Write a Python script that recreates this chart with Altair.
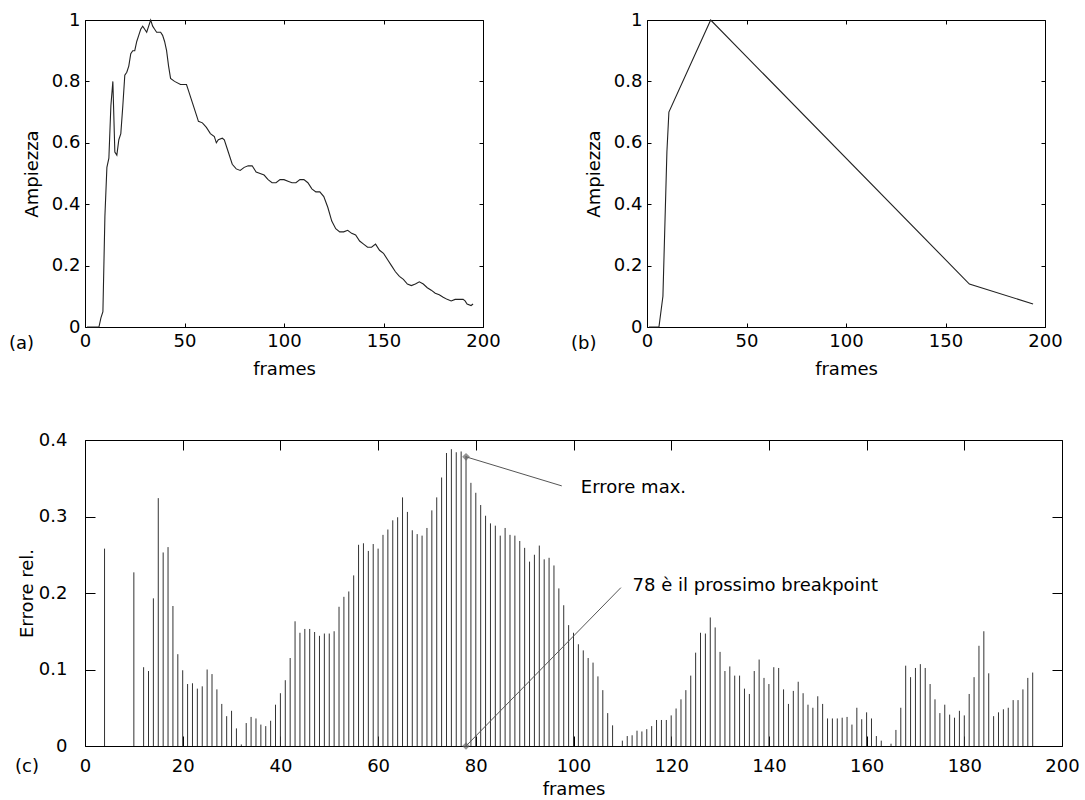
import altair as alt
import pandas as pd

FONT = "DejaVu Sans"
FS = 18

# ---------------- panel (a): measured amplitude ----------------
a_frames = [1, 7, 8, 9, 10, 11, 12, 13, 14, 15, 16, 17, 18, 19, 20, 21, 22, 23, 24, 25,
            26, 27, 28, 29, 30, 31, 32, 33, 34, 35, 36, 38, 39, 40, 41, 42, 43, 45, 48,
            51, 52, 54, 56, 57, 59, 61, 63, 65, 66, 67, 69, 70, 72, 74, 76, 78, 80, 82,
            84, 86, 88, 90, 92, 94, 96, 98, 100, 102, 104, 106, 108, 110, 112, 114, 116,
            118, 120, 122, 124, 126, 128, 130, 132, 134, 136, 138, 140, 142, 144, 146,
            148, 150, 152, 154, 156, 158, 160, 162, 164, 166, 168, 170, 172, 174, 176,
            178, 180, 182, 184, 186, 188, 190, 191, 192, 194, 195]
a_amp = [0.0, 0.0, 0.03, 0.05, 0.36, 0.52, 0.55, 0.72, 0.80, 0.57, 0.56, 0.61, 0.63,
         0.72, 0.82, 0.83, 0.85, 0.89, 0.90, 0.90, 0.93, 0.95, 0.97, 0.98, 0.97, 0.96,
         0.98, 1.0, 0.98, 0.97, 0.96, 0.96, 0.95, 0.93, 0.90, 0.85, 0.81, 0.80, 0.79,
         0.79, 0.77, 0.73, 0.69, 0.67, 0.665, 0.65, 0.63, 0.62, 0.60, 0.61, 0.615, 0.61,
         0.57, 0.53, 0.515, 0.51, 0.52, 0.525, 0.525, 0.505, 0.50, 0.495, 0.48, 0.47,
         0.47, 0.48, 0.48, 0.475, 0.47, 0.47, 0.48, 0.48, 0.47, 0.45, 0.44, 0.44, 0.425,
         0.39, 0.345, 0.32, 0.31, 0.31, 0.315, 0.305, 0.30, 0.28, 0.27, 0.26, 0.26, 0.27,
         0.25, 0.24, 0.22, 0.20, 0.18, 0.165, 0.155, 0.14, 0.135, 0.14, 0.147, 0.14,
         0.128, 0.12, 0.11, 0.105, 0.097, 0.09, 0.085, 0.09, 0.09, 0.09, 0.085, 0.075,
         0.07, 0.075]

# ---------------- panel (b): piecewise-linear approximation ----------------
b_frames = [1, 6, 8, 10, 11, 32, 162, 194]
b_amp = [0.0, 0.0, 0.10, 0.57, 0.70, 1.0, 0.14, 0.075]

# ---------------- panel (c): relative error per frame ----------------
c_frames = list(range(1, 195))
c_err = [
    0, 0, 0, 0.258, 0, 0, 0, 0, 0, 0.227,                                # 1-10
    0, 0.103, 0.098, 0.193, 0.324, 0.253, 0.26, 0.183, 0.12, 0.099,        # 11-20
    0.081, 0.082, 0.075, 0.078, 0.10, 0.094, 0.074, 0.055, 0.039, 0.046,   # 21-30
    0.023, 0.002, 0.03, 0.038, 0.036, 0.028, 0.026, 0.033, 0.054, 0.069,   # 31-40
    0.086, 0.115, 0.163, 0.148, 0.153, 0.153, 0.149, 0.144, 0.147, 0.147,  # 41-50
    0.15, 0.182, 0.195, 0.202, 0.223, 0.263, 0.265, 0.255, 0.264, 0.258,   # 51-60
    0.276, 0.283, 0.295, 0.299, 0.325, 0.306, 0.282, 0.277, 0.275, 0.285,  # 61-70
    0.308, 0.325, 0.351, 0.383, 0.388, 0.384, 0.385, 0.379, 0.344, 0.331,  # 71-80
    0.315, 0.301, 0.291, 0.288, 0.275, 0.285, 0.276, 0.275, 0.268, 0.259,  # 81-90
    0.241, 0.25, 0.262, 0.244, 0.246, 0.236, 0.206, 0.184, 0.158, 0.148,  # 91-100
    0.133, 0.125, 0.115, 0.109, 0.091, 0.073, 0.043, 0.027, 0, 0.007,      # 101-110
    0.013, 0.014, 0.02, 0.019, 0.022, 0.026, 0.034, 0.034, 0.034, 0.04,    # 111-120
    0.049, 0.061, 0.073, 0.092, 0.122, 0.148, 0.147, 0.168, 0.155, 0.123,  # 121-130
    0.098, 0.104, 0.092, 0.092, 0.075, 0.068, 0.098, 0.113, 0.089, 0.081,  # 131-140
    0.103, 0.102, 0.074, 0.055, 0.072, 0.084, 0.069, 0.054, 0.05, 0.065,   # 141-150
    0.055, 0.036, 0.036, 0.036, 0.037, 0.038, 0.028, 0.05, 0.035, 0.044,   # 151-160
    0.036, 0.013, 0.007, 0, 0.003, 0.021, 0.05, 0.105, 0.09, 0.102,        # 161-170
    0.107, 0.102, 0.081, 0.061, 0.043, 0.054, 0.041, 0.037, 0.046, 0.04,   # 171-180
    0.068, 0.09, 0.131, 0.15, 0.095, 0.039, 0.044, 0.048, 0.05, 0.06,      # 181-190
    0.06, 0.074, 0.089, 0.096,                                             # 191-194
]

# annotations of panel (c)
ann_x = [78, 78]
ann_y = [0.378, 0.0]
ann_x2 = [97.6, 109.7]
ann_y2 = [0.340, 0.207]
ann_text = ["Errore max.", "78 è il prossimo breakpoint"]
ann_tx = [101.5, 112.1]
ann_ty = [0.337, 0.209]

# ticks
ab_xticks = [0, 50, 100, 150, 200]
ab_yticks = [0, 0.2, 0.4, 0.6, 0.8, 1.0]
c_xticks = [0, 20, 40, 60, 80, 100, 120, 140, 160, 180, 200]
c_yticks = [0, 0.1, 0.2, 0.3, 0.4]

W_AB, H_AB = 398, 307
W_C, H_C = 977, 306


def axes_pair(xdom, ydom, xticks, yticks, ytitle, tick, xlp, xtp, ylp, ytp):
    xs = alt.Scale(domain=xdom, nice=False, zero=False)
    ys = alt.Scale(domain=ydom, nice=False, zero=False)
    x_main = alt.X("x:Q", scale=xs, axis=alt.Axis(
        values=xticks, orient="bottom", offset=-tick, tickSize=tick, domain=False,
        grid=False, labelPadding=xlp, title="frames", titlePadding=xtp,
        labelFlush=False, format="~r"))
    y_main = alt.Y("y:Q", scale=ys, axis=alt.Axis(
        values=yticks, orient="left", offset=-tick, tickSize=tick, domain=False,
        grid=False, labelPadding=ylp, title=ytitle, titlePadding=ytp, format="~r"))
    x_top = alt.X("x:Q", scale=xs, axis=alt.Axis(
        values=xticks, orient="top", offset=-tick, tickSize=tick, domain=False,
        grid=False, labels=False, title=None))
    y_right = alt.Y("y:Q", scale=ys, axis=alt.Axis(
        values=yticks, orient="right", offset=-tick, tickSize=tick, domain=False,
        grid=False, labels=False, title=None))
    return xs, ys, x_main, y_main, x_top, y_right


def tag_layer(tag, dx, dy):
    return alt.Chart(pd.DataFrame({"t": [tag]})).mark_text(
        align="left", baseline="middle", font=FONT, fontSize=FS, color="black"
    ).encode(text="t:N", x=alt.value(dx), y=alt.value(dy))


def line_panel(frames, amp, ytitle, tag):
    df = pd.DataFrame({"x": frames, "y": amp})
    xs, ys, x_main, y_main, x_top, y_right = axes_pair(
        [0, 200], [0, 1], ab_xticks, ab_yticks, ytitle, 4, 5, 10, 5, 10)
    line = alt.Chart(df).mark_line(color="#222", strokeWidth=1.1).encode(
        x=x_main, y=y_main)
    ticks = alt.Chart(df).mark_line(opacity=0).encode(x=x_top, y=y_right)
    return alt.layer(line, ticks, tag_layer(tag, -76, H_AB + 17)).resolve_axis(
        x="independent", y="independent").properties(width=W_AB, height=H_AB)


panel_a = line_panel(a_frames, a_amp, "Ampiezza", "(a)")
panel_b = line_panel(b_frames, b_amp, "Ampiezza", "(b)")

# panel (c)
dfc = pd.DataFrame({"x": c_frames, "y": c_err})
xs, ys, x_main, y_main, x_top, y_right = axes_pair(
    [0, 200], [0, 0.4], c_xticks, c_yticks, "Errore rel.", 10, 11, 5, 18, 2)
stems = alt.Chart(dfc).mark_rule(color="#333", strokeWidth=1).encode(
    x=x_main, y=y_main, y2=alt.datum(0))
cticks = alt.Chart(dfc).mark_point(opacity=0).encode(x=x_top, y=y_right)

dfa = pd.DataFrame({"ax": ann_x, "ay": ann_y, "ax2": ann_x2, "ay2": ann_y2,
                    "t": ann_text, "tx": ann_tx, "ty": ann_ty})
ann_lines = alt.Chart(dfa).mark_rule(color="#555", strokeWidth=1).encode(
    x=alt.X("ax:Q", scale=xs, axis=None), y=alt.Y("ay:Q", scale=ys, axis=None),
    x2="ax2:Q", y2="ay2:Q")
ann_pts = alt.Chart(dfa).mark_point(shape="diamond", filled=True, color="#666",
                                    size=60).encode(
    x=alt.X("ax:Q", scale=xs, axis=None), y=alt.Y("ay:Q", scale=ys, axis=None))
ann_txt = alt.Chart(dfa).mark_text(align="left", baseline="middle", font=FONT,
                                   fontSize=FS, color="black").encode(
    x=alt.X("tx:Q", scale=xs, axis=None), y=alt.Y("ty:Q", scale=ys, axis=None),
    text="t:N")

panel_c = alt.layer(stems, cticks, ann_lines, ann_pts, ann_txt,
                    tag_layer("(c)", -70, H_C + 21)).resolve_axis(
    x="independent", y="independent").properties(width=W_C, height=H_C)

top_row = alt.hconcat(panel_a, panel_b, spacing=164, bounds="flush")
chart = alt.vconcat(top_row, panel_c, spacing=51).properties(
    padding={"left": 8, "top": 10, "right": 5, "bottom": 5},
    background="white",
).configure_view(stroke="black", strokeWidth=1).configure_axis(
    labelFont=FONT, titleFont=FONT, labelFontSize=FS, titleFontSize=FS,
    labelColor="black", titleColor="black", tickColor="black",
    titleFontWeight="normal", tickWidth=1)

chart.save("out.html", embed_options={"renderer": "svg", "actions": False})
